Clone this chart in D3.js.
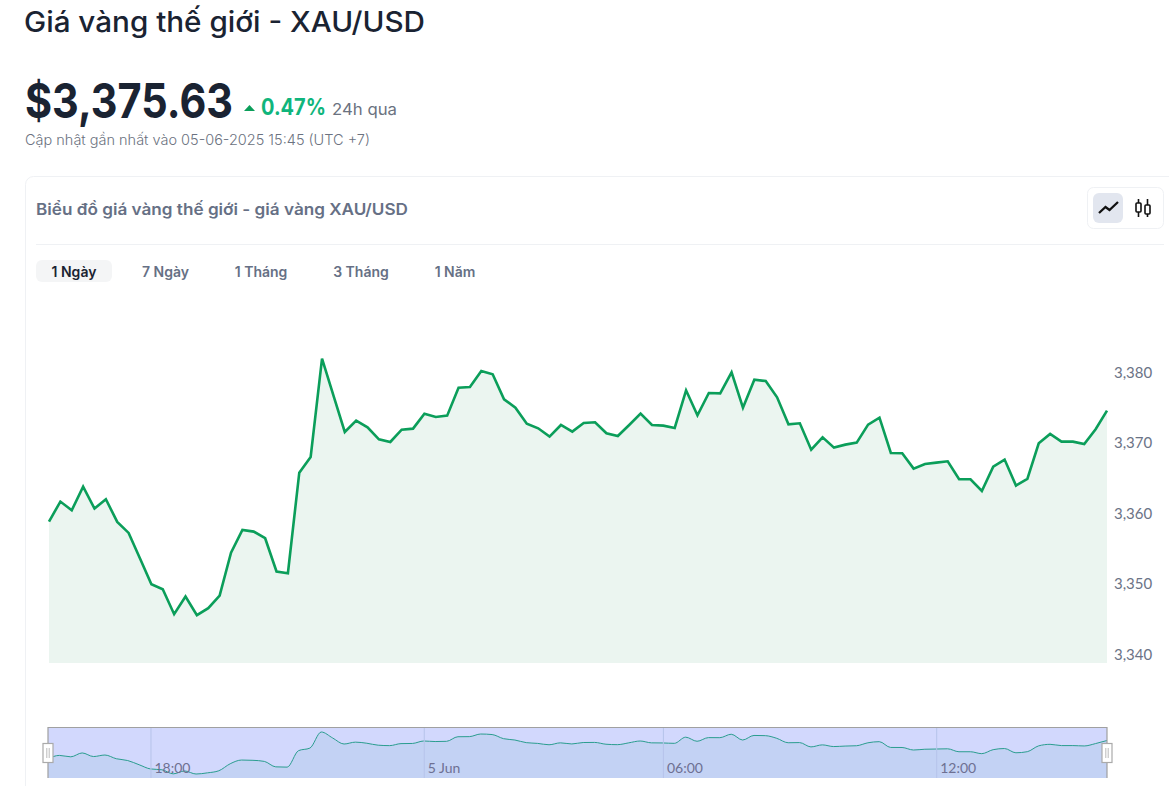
<!DOCTYPE html>
<html>
<head>
<meta charset="utf-8">
<script src="https://cdn.jsdelivr.net/npm/d3@7"></script>
<style>
  html, body { margin: 0; padding: 0; background: #fff; overflow: hidden; }
  text { font-family: Inter, "Noto Sans", sans-serif; }
  .price-axis text, .mini-axis text { font-family: Lato, sans-serif; }
</style>
</head>
<body>
<div id="app"></div>
<script>
// 15 minute closes. Starts 15:45 on 4 Jun, ends 15:45 on 5 Jun
const prices = [
  3358.77, 3361.61, 3360.38, 3363.74, 3360.62, 3361.94, 3358.72, 3357.16, 3353.52, 3349.88,
  3349.17, 3345.63, 3348.13, 3345.49, 3346.48, 3348.28, 3354.37, 3357.59, 3357.35, 3356.41,
  3351.68, 3351.44, 3365.72, 3367.94, 3381.89, 3376.69, 3371.49, 3373.10, 3372.15, 3370.45,
  3370.07, 3371.82, 3371.96, 3374.09, 3373.62, 3373.81, 3377.78, 3377.87, 3380.14, 3379.67,
  3376.12, 3374.94, 3372.67, 3372.01, 3370.83, 3372.48, 3371.54, 3372.77, 3372.86, 3371.30,
  3370.92, 3372.48, 3374.09, 3372.48, 3372.39, 3372.06, 3377.40, 3373.85, 3377.02, 3376.97,
  3379.95, 3374.94, 3378.91, 3378.72, 3376.41, 3372.58, 3372.72, 3368.98, 3370.73, 3369.27,
  3369.69, 3369.98, 3372.53, 3373.52, 3368.51, 3368.46, 3366.29, 3366.95, 3367.14, 3367.33,
  3364.78, 3364.78, 3363.12, 3366.57, 3367.57, 3363.88, 3364.82, 3369.88, 3371.21, 3370.12,
  3370.12, 3369.79, 3371.87, 3374.52
];
const priceTicks = [3340, 3350, 3360, 3370, 3380];
const timeTickIndex = [9, 33, 54, 78];
const timeTickLabels = ["18:00", "5 Jun", "06:00", "12:00"];
const rangeTabs = ["1 Ngày", "7 Ngày", "1 Tháng", "3 Tháng", "1 Năm"];

const width = 1169, height = 786;
const svg = d3.select("#app").append("svg")
    .attr("width", width)
    .attr("height", height)
    .style("display", "block");

const addText = (str, x, y, size, weight, color, fitWidth) => {
    const t = svg.append("text")
        .attr("x", x).attr("y", y)
        .attr("font-size", size)
        .attr("font-weight", weight)
        .attr("fill", color)
        .text(str);
    // the site's font is not installed, so squeeze to the same width
    if (fitWidth) t.attr("textLength", fitWidth).attr("lengthAdjust", "spacingAndGlyphs");
    return t;
};

// page header
addText("Giá vàng thế giới - XAU/USD", 24, 32, 28, 500, "#1a2332", 401);
addText("$3,375.63", 25, 118, 48, 700, "#1a2332", 208);
svg.append("path").attr("d", "M244 111 L249.5 105 L255 111 Z").attr("fill", "#0b9e5a");
addText("0.47%", 261, 115, 22.5, 700, "#10b57c", 65);
addText("24h qua", 332, 115, 16.5, 400, "#6b7280", 65);
addText("Cập nhật gần nhất vào 05-06-2025 15:45 (UTC +7)", 25, 145, 14, 300, "#6b7280", 345);

// card
svg.append("rect")
    .attr("x", 25.5).attr("y", 176.5)
    .attr("width", 1180).attr("height", 700)
    .attr("rx", 8)
    .attr("fill", "#fff")
    .attr("stroke", "#eff1f4");
addText("Biểu đồ giá vàng thế giới - giá vàng XAU/USD", 36, 214.5, 16, 600, "#667085", 372);
svg.append("line")
    .attr("x1", 36).attr("x2", 1164)
    .attr("y1", 244.5).attr("y2", 244.5)
    .attr("stroke", "#eff1f4");

// chart type toggle
svg.append("rect").attr("x", 1087.5).attr("y", 187.5).attr("width", 76).attr("height", 41)
    .attr("rx", 6).attr("fill", "#fff").attr("stroke", "#eff1f4");
svg.append("rect").attr("x", 1093).attr("y", 193).attr("width", 30).attr("height", 30)
    .attr("rx", 6).attr("fill", "#e2e6ef");
svg.append("path").attr("d", "M1099 213 L1105.5 207 L1109.5 210 L1118 202")
    .attr("fill", "none").attr("stroke", "#111").attr("stroke-width", 2.3);
svg.append("path").attr("d", "M1138.5 199 V217 M1147.5 199 V217")
    .attr("stroke", "#111").attr("stroke-width", 1.6);
svg.append("rect").attr("x", 1136).attr("y", 203).attr("width", 5).attr("height", 9)
    .attr("fill", "#fff").attr("stroke", "#111").attr("stroke-width", 1.6).attr("rx", 1);
svg.append("rect").attr("x", 1145).attr("y", 205).attr("width", 5).attr("height", 9)
    .attr("fill", "#fff").attr("stroke", "#111").attr("stroke-width", 1.6).attr("rx", 1);

// range tabs
svg.append("rect").attr("x", 36).attr("y", 260).attr("width", 76).attr("height", 22)
    .attr("rx", 6).attr("fill", "#f4f5f6");
svg.selectAll(".tab")
    .data(rangeTabs)
    .enter().append("text")
    .attr("class", "tab")
    .attr("x", (d, i) => [74, 165.5, 261, 361, 455][i])
    .attr("y", 277)
    .attr("text-anchor", "middle")
    .attr("font-size", 14)
    .attr("font-weight", 600)
    .attr("fill", (d, i) => i === 0 ? "#1a2332" : "#667085")
    .text(d => d);

// main chart
const x = d3.scaleLinear().domain([0, prices.length - 1]).range([49, 1107]);
const y = d3.scaleLinear().domain([3338.7, 3380]).range([663, 372]);

svg.append("path")
    .datum(prices)
    .attr("fill", "#ebf5f0")
    .attr("d", d3.area().x((d, i) => x(i)).y0(y.range()[0]).y1(d => y(d)));
svg.append("path")
    .datum(prices)
    .attr("fill", "none")
    .attr("stroke", "#0b9e5a")
    .attr("stroke-width", 2.6)
    .attr("d", d3.line().x((d, i) => x(i)).y(d => y(d)));

svg.append("g")
    .attr("class", "price-axis")
    .attr("transform", "translate(1107,0)")
    .call(d3.axisRight(y).tickValues(priceTicks).tickSize(0).tickPadding(7).tickFormat(d3.format(",")))
    .call(g => g.select(".domain").remove())
    .selectAll("text")
    .attr("font-size", 15)
    .attr("dy", "0.36em")
    .attr("fill", "#6b7386");

// range slider under the chart
const miniTop = 727.5, miniBottom = 778;
const miniX = d3.scaleLinear().domain([0, prices.length - 1]).range([48, 1107]);
const miniY = d3.scaleLinear().domain(d3.extent(prices)).range([774, 732]);

svg.append("rect")
    .attr("x", miniX.range()[0]).attr("y", miniTop)
    .attr("width", miniX.range()[1] - miniX.range()[0]).attr("height", miniBottom - miniTop)
    .attr("fill", "#d2d8fd");
svg.append("path")
    .datum(prices)
    .attr("fill", "#c3d2f4")
    .attr("d", d3.area().curve(d3.curveMonotoneX).x((d, i) => miniX(i)).y0(miniBottom).y1(d => miniY(d)));
svg.append("path")
    .datum(prices)
    .attr("fill", "none")
    .attr("stroke", "#2a9d8f")
    .attr("stroke-width", 1)
    .attr("d", d3.line().curve(d3.curveMonotoneX).x((d, i) => miniX(i)).y(d => miniY(d)));

const miniAxis = svg.append("g")
    .attr("class", "mini-axis")
    .attr("transform", `translate(0,${miniTop})`)
    .call(d3.axisBottom(miniX)
        .tickValues(timeTickIndex)
        .tickSize(miniBottom - miniTop)
        .tickFormat((d, i) => timeTickLabels[i]));
miniAxis.select(".domain").remove();
miniAxis.selectAll("line").attr("stroke", "#b6c3ea");
miniAxis.selectAll("text")
    .attr("text-anchor", "start")
    .attr("x", 3.5)
    .attr("y", 35.5)
    .attr("font-size", 14)
    .attr("fill", "#6e7092");

svg.append("path")
    .attr("d", `M${miniX.range()[0]} ${miniBottom} V${miniTop} H${miniX.range()[1]} V${miniBottom}`)
    .attr("fill", "none")
    .attr("stroke", "#a0a0a0")
    .attr("stroke-width", 1.2);

// slider handles
miniX.range().forEach(hx => {
    svg.append("rect")
        .attr("x", hx - 5).attr("y", 743.5)
        .attr("width", 10).attr("height", 19)
        .attr("fill", "#fff")
        .attr("stroke", "#aaa")
        .attr("stroke-width", 1.2);
    svg.append("path")
        .attr("d", `M${hx - 1.2} 748 V758 M${hx + 1.2} 748 V758`)
        .attr("stroke", "#aaa")
        .attr("stroke-width", 0.8);
});
</script>
</body>
</html>
